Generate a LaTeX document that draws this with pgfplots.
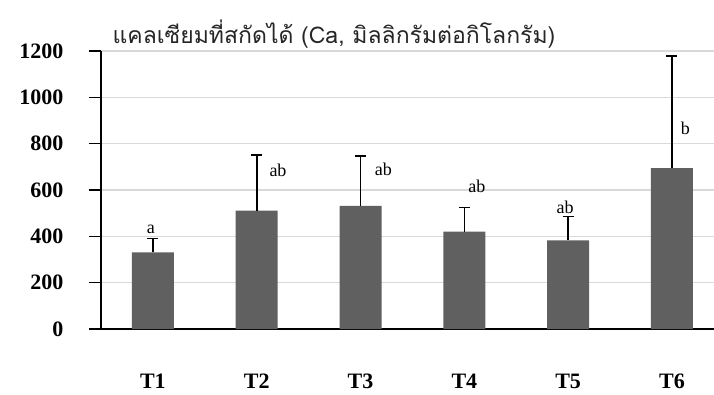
\documentclass[border=0pt]{standalone}
\usepackage{fontspec}
\setmainfont{Liberation Serif}
\newfontfamily\thaifont[Script=Thai]{Loma}
\usepackage{pgfplots}
\pgfplotsset{compat=1.18}
\usetikzlibrary{calc}
\definecolor{barc}{HTML}{606060}
\definecolor{gridc}{HTML}{D9D9D9}

\begin{document}
\begin{tikzpicture}
\begin{axis}[
    name=ax,
    scale only axis,
    width=613pt, height=278pt,
    ybar, bar width=42pt,
    xmin=0.5, xmax=6.405,
    ymin=0, ymax=1200,
    axis x line=bottom, axis y line=left,
    axis line style={line width=1.6pt, -},
    ytick={0,200,...,1200},
    ymajorgrids,
    grid style={gridc, line width=1.2pt},
    xtick={1,...,6},
    xticklabels={T1,T2,T3,T4,T5,T6},
    minor xtick={0.5,1.5,...,5.5},
    tick align=outside,
    major tick length=12pt,
    minor tick length=12pt,
    xtick style={draw=none},
    minor x tick style={black, line width=1.6pt},
    ytick style={black, line width=1.6pt},
    /pgf/number format/assume math mode=true,
    /pgf/number format/1000 sep={},
    yticklabel style={font=\bfseries\fontsize{22}{22}\selectfont, xshift=-22pt},
    xticklabel style={font=\bfseries\fontsize{22}{22}\selectfont,
        text height=15pt, text depth=0pt, yshift=-29pt},
]
\addplot[fill=barc, draw=none,
    error bars/.cd, y dir=plus, y explicit, error mark=-,
    error bar style={black, line width=1.6pt},
    error mark options={black, line width=1.6pt, mark size=5.5pt, rotate=90}]
coordinates {
    (1,331) +- (0,60)
    (2,511) +- (0,240)
    (3,531) +- (0,216)
    (4,420) +- (0,105)
    (5,383) +- (0,103)
    (6,694) +- (0,484)
};
\begin{scope}[every node/.style={font=\fontsize{18}{18}\selectfont}]
\node at (axis cs:0.98,432) {a};
\node at (axis cs:2.205,686) {ab};
\node at (axis cs:3.22,689) {ab};
\node at (axis cs:4.12,614) {ab};
\node at (axis cs:4.97,524) {ab};
\node at (axis cs:6.13,868) {b};
\end{scope}
\end{axis}
\node[anchor=west, text=black!85, font=\thaifont\fontsize{23}{23}\selectfont]
    at ($(ax.south west)+(8pt,295pt)$) {แคลเซียมที่สกัดได้ (Ca, มิลลิกรัมต่อกิโลกรัม)};
\pgfresetboundingbox
\path ($(ax.south west)+(-101pt,-65pt)$) rectangle ($(ax.south west)+(613pt,329pt)$);
\end{tikzpicture}
\end{document}
